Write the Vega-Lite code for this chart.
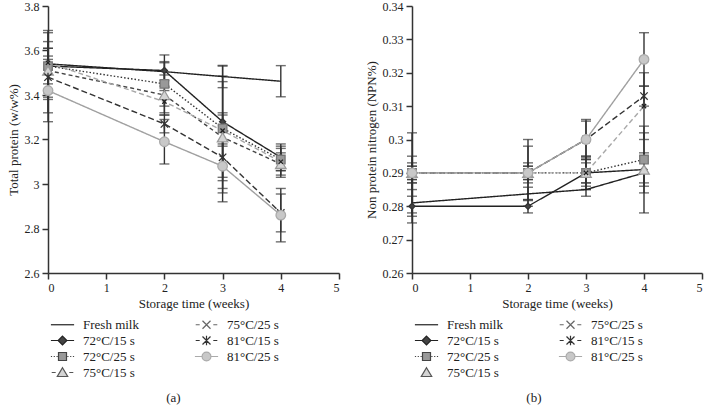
{
  "$schema": "https://vega.github.io/schema/vega-lite/v6.json",
  "padding": {"left": 7, "top": 0, "right": 1, "bottom": 0},
  "spacing": 25,
  "datasets": {
    "protein": [
      {"series": "Fresh milk", "week": 0, "value": 3.54, "sd": 0.15},
      {"series": "Fresh milk", "week": 2, "value": 3.505, "sd": 0.04},
      {"series": "Fresh milk", "week": 3, "value": 3.483, "sd": 0.05},
      {"series": "Fresh milk", "week": 4, "value": 3.462, "sd": 0.07},
      {"series": "72°C/15 s", "week": 0, "value": 3.53, "sd": 0.15},
      {"series": "72°C/15 s", "week": 2, "value": 3.51, "sd": 0.07},
      {"series": "72°C/15 s", "week": 3, "value": 3.28, "sd": 0.25},
      {"series": "72°C/15 s", "week": 4, "value": 3.12, "sd": 0.06},
      {"series": "72°C/25 s", "week": 0, "value": 3.53, "sd": 0.08},
      {"series": "72°C/25 s", "week": 2, "value": 3.45, "sd": 0.1},
      {"series": "72°C/25 s", "week": 3, "value": 3.25, "sd": 0.235},
      {"series": "72°C/25 s", "week": 4, "value": 3.11, "sd": 0.05},
      {"series": "75°C/15 s", "week": 0, "value": 3.51, "sd": 0.1},
      {"series": "75°C/15 s", "week": 2, "value": 3.4, "sd": 0.09},
      {"series": "75°C/15 s", "week": 3, "value": 3.21, "sd": 0.25},
      {"series": "75°C/15 s", "week": 4, "value": 3.09, "sd": 0.05},
      {"series": "75°C/25 s", "week": 0, "value": 3.545, "sd": 0.03},
      {"series": "75°C/25 s", "week": 2, "value": 3.37, "sd": 0.05},
      {"series": "75°C/25 s", "week": 3, "value": 3.24, "sd": 0.07},
      {"series": "75°C/25 s", "week": 4, "value": 3.1, "sd": 0.07},
      {"series": "81°C/15 s", "week": 0, "value": 3.48, "sd": 0.16},
      {"series": "81°C/15 s", "week": 2, "value": 3.27, "sd": 0.04},
      {"series": "81°C/15 s", "week": 3, "value": 3.12, "sd": 0.2},
      {"series": "81°C/15 s", "week": 4, "value": 2.87, "sd": 0.085},
      {"series": "81°C/25 s", "week": 0, "value": 3.42, "sd": 0.14},
      {"series": "81°C/25 s", "week": 2, "value": 3.19, "sd": 0.1},
      {"series": "81°C/25 s", "week": 3, "value": 3.08, "sd": 0.1},
      {"series": "81°C/25 s", "week": 4, "value": 2.86, "sd": 0.12}
    ],
    "npn": [
      {"series": "Fresh milk", "week": 0, "value": 0.281, "sd": 0.006},
      {"series": "Fresh milk", "week": 2, "value": 0.2837, "sd": 0.002},
      {"series": "Fresh milk", "week": 3, "value": 0.285, "sd": 0.002},
      {"series": "Fresh milk", "week": 4, "value": 0.29, "sd": 0.012},
      {"series": "72°C/15 s", "week": 0, "value": 0.28, "sd": 0.003},
      {"series": "72°C/15 s", "week": 2, "value": 0.28, "sd": 0.002},
      {"series": "72°C/15 s", "week": 3, "value": 0.29, "sd": 0.005},
      {"series": "72°C/15 s", "week": 4, "value": 0.291, "sd": 0.005},
      {"series": "72°C/25 s", "week": 0, "value": 0.29, "sd": 0.003},
      {"series": "72°C/25 s", "week": 2, "value": 0.29, "sd": 0.002},
      {"series": "72°C/25 s", "week": 3, "value": 0.29, "sd": 0.004},
      {"series": "72°C/25 s", "week": 4, "value": 0.294, "sd": 0.01},
      {"series": "75°C/15 s", "week": 0, "value": 0.29, "sd": 0.002},
      {"series": "75°C/15 s", "week": 2, "value": 0.29, "sd": 0.002},
      {"series": "75°C/15 s", "week": 3, "value": 0.29, "sd": 0.003},
      {"series": "75°C/15 s", "week": 4, "value": 0.291, "sd": 0.004},
      {"series": "75°C/25 s", "week": 0, "value": 0.29, "sd": 0.002},
      {"series": "75°C/25 s", "week": 2, "value": 0.29, "sd": 0.008},
      {"series": "75°C/25 s", "week": 3, "value": 0.29, "sd": 0.005},
      {"series": "75°C/25 s", "week": 4, "value": 0.31, "sd": 0.01},
      {"series": "81°C/15 s", "week": 0, "value": 0.29, "sd": 0.005},
      {"series": "81°C/15 s", "week": 2, "value": 0.29, "sd": 0.01},
      {"series": "81°C/15 s", "week": 3, "value": 0.3, "sd": 0.0055},
      {"series": "81°C/15 s", "week": 4, "value": 0.313, "sd": 0.003},
      {"series": "81°C/25 s", "week": 0, "value": 0.29, "sd": 0.012},
      {"series": "81°C/25 s", "week": 2, "value": 0.29, "sd": 0.003},
      {"series": "81°C/25 s", "week": 3, "value": 0.3, "sd": 0.006},
      {"series": "81°C/25 s", "week": 4, "value": 0.324, "sd": 0.008}
    ]
  },
  "hconcat": [
    {
      "width": 291,
      "height": 267,
      "data": {"name": "protein"},
      "title": {"text": "(a)", "orient": "bottom", "offset": 12, "frame": "bounds"},
      "encoding": {
        "x": {"field": "week", "type": "quantitative", "scale": {"domain": [0, 5], "nice": false}, "axis": {"values": [0, 1, 2, 3, 4, 5], "title": "Storage time (weeks)"}},
        "y": {"field": "value", "type": "quantitative", "scale": {"domain": [2.6, 3.8], "nice": false, "zero": false}, "axis": {"values": [2.6, 2.8, 3, 3.2, 3.4, 3.6, 3.8], "format": "~g", "title": "Total protein (w/w%)"}}
      },
      "layer": [
        {
          "mark": {"type": "errorbar", "ticks": true, "size": 10, "thickness": 1.4, "color": "#333"},
          "encoding": {"yError": {"field": "sd"}}
        },
        {
          "mark": {"type": "line", "strokeWidth": 1.4},
          "encoding": {
            "stroke": {"field": "series", "type": "nominal", "legend": null, "scale": {"domain": ["Fresh milk", "75°C/25 s", "72°C/15 s", "81°C/15 s", "72°C/25 s", "81°C/25 s", "75°C/15 s"], "range": ["#222", "#a8a8a8", "#222", "#333", "#333", "#a0a0a0", "#444"]}},
            "strokeDash": {"field": "series", "type": "nominal", "legend": null, "scale": {"domain": ["Fresh milk", "75°C/25 s", "72°C/15 s", "81°C/15 s", "72°C/25 s", "81°C/25 s", "75°C/15 s"], "range": [[1, 0], [5, 3], [1, 0], [6, 3], [1.5, 2], [1, 0], [4, 3]]}}
          }
        },
        {
          "transform": [{"filter": "datum.series !== 'Fresh milk'"}],
          "mark": {"type": "point", "opacity": 1, "strokeWidth": 1.3},
          "encoding": {
            "shape": {"field": "series", "type": "nominal", "legend": null, "scale": {"domain": ["Fresh milk", "75°C/25 s", "72°C/15 s", "81°C/15 s", "72°C/25 s", "81°C/25 s", "75°C/15 s"], "range": ["circle", "M-1,-1L1,1M-1,1L1,-1", "diamond", "M-1,-1L1,1M-1,1L1,-1M0,-1.2L0,1.2", "square", "circle", "triangle-up"]}},
            "fill": {"field": "series", "type": "nominal", "legend": null, "scale": {"domain": ["Fresh milk", "75°C/25 s", "72°C/15 s", "81°C/15 s", "72°C/25 s", "81°C/25 s", "75°C/15 s"], "range": ["transparent", "transparent", "#444", "transparent", "#999", "#c8c8c8", "#d4d4d4"]}},
            "stroke": {"field": "series", "type": "nominal", "legend": null, "scale": {"domain": ["Fresh milk", "75°C/25 s", "72°C/15 s", "81°C/15 s", "72°C/25 s", "81°C/25 s", "75°C/15 s"], "range": ["#222", "#222", "#333", "#333", "#777", "#aaa", "#999"]}},
            "size": {"field": "series", "type": "nominal", "legend": null, "scale": {"domain": ["Fresh milk", "75°C/25 s", "72°C/15 s", "81°C/15 s", "72°C/25 s", "81°C/25 s", "75°C/15 s"], "range": [0, 110, 80, 110, 100, 130, 170]}}
          }
        },
        {
          "mark": {"type": "point", "opacity": 0, "filled": true},
          "encoding": {
            "shape": {"field": "series", "type": "nominal", "legend": {"title": null}, "scale": {"domain": ["Fresh milk", "75°C/25 s", "72°C/15 s", "81°C/15 s", "72°C/25 s", "81°C/25 s", "75°C/15 s"], "range": [
              "M-2.9,0H2.9",
              "M-2.7,0H-1.7M1.7,0H2.7M-1,-1L1,1M-1,1L1,-1",
              "M-2.9,0H-1.1M1.1,0H2.9M0,-1.1L1.1,0L0,1.1L-1.1,0Z",
              "M-2.7,0H-1.7M1.7,0H2.7M-1,-1L1,1M-1,1L1,-1M0,-1.2V1.2",
              "M-2.9,0H-2.6M-2.2,0H-1.9M-1.5,0H-1.2M1.2,0H1.5M1.9,0H2.2M2.6,0H2.9M-1,-1H1V1H-1Z",
              "M-2.9,0H-1.1M1.1,0H2.9M1.1,0A1.1,1.1,0,1,1,-1.1,0A1.1,1.1,0,1,1,1.1,0Z",
              "M-2.7,0H-1.7M1.7,0H2.7M0,-1.2L1.3,1H-1.3Z"
            ]}},
            "color": {"field": "series", "type": "nominal", "legend": {"title": null}, "scale": {"domain": ["Fresh milk", "75°C/25 s", "72°C/15 s", "81°C/15 s", "72°C/25 s", "81°C/25 s", "75°C/15 s"], "range": ["transparent", "transparent", "#444", "transparent", "#999", "#c8c8c8", "#d4d4d4"]}},
            "stroke": {"field": "series", "type": "nominal", "legend": {"title": null}, "scale": {"domain": ["Fresh milk", "75°C/25 s", "72°C/15 s", "81°C/15 s", "72°C/25 s", "81°C/25 s", "75°C/15 s"], "range": ["#222", "#666", "#222", "#333", "#444", "#aaa", "#555"]}}
          }
        }
      ],
      "resolve": {"scale": {"shape": "independent", "fill": "independent", "color": "independent", "stroke": "independent", "strokeDash": "independent", "size": "independent"}}
    },
    {
      "width": 290,
      "height": 267,
      "data": {"name": "npn"},
      "title": {"text": "(b)", "orient": "bottom", "offset": 12, "frame": "bounds"},
      "encoding": {
        "x": {"field": "week", "type": "quantitative", "scale": {"domain": [0, 5], "nice": false}, "axis": {"values": [0, 1, 2, 3, 4, 5], "title": "Storage time (weeks)"}},
        "y": {"field": "value", "type": "quantitative", "scale": {"domain": [0.26, 0.34], "nice": false, "zero": false}, "axis": {"values": [0.26, 0.27, 0.28, 0.29, 0.3, 0.31, 0.32, 0.33, 0.34], "format": ".2~f", "title": "Non protein nitrogen (NPN%)"}}
      },
      "layer": [
        {
          "mark": {"type": "errorbar", "ticks": true, "size": 10, "thickness": 1.4, "color": "#333"},
          "encoding": {"yError": {"field": "sd"}}
        },
        {
          "transform": [{"filter": "datum.series !== '75°C/15 s'"}],
          "mark": {"type": "line", "strokeWidth": 1.4},
          "encoding": {
            "stroke": {"field": "series", "type": "nominal", "legend": null, "scale": {"domain": ["Fresh milk", "75°C/25 s", "72°C/15 s", "81°C/15 s", "72°C/25 s", "81°C/25 s", "75°C/15 s"], "range": ["#222", "#a8a8a8", "#222", "#333", "#333", "#a0a0a0", "#444"]}},
            "strokeDash": {"field": "series", "type": "nominal", "legend": null, "scale": {"domain": ["Fresh milk", "75°C/25 s", "72°C/15 s", "81°C/15 s", "72°C/25 s", "81°C/25 s", "75°C/15 s"], "range": [[1, 0], [5, 3], [1, 0], [6, 3], [1.5, 2], [1, 0], [4, 3]]}}
          }
        },
        {
          "transform": [{"filter": "datum.series !== 'Fresh milk'"}],
          "mark": {"type": "point", "opacity": 1, "strokeWidth": 1.3},
          "encoding": {
            "shape": {"field": "series", "type": "nominal", "legend": null, "scale": {"domain": ["Fresh milk", "75°C/25 s", "72°C/15 s", "81°C/15 s", "72°C/25 s", "81°C/25 s", "75°C/15 s"], "range": ["circle", "M-1,-1L1,1M-1,1L1,-1", "diamond", "M-1,-1L1,1M-1,1L1,-1M0,-1.2L0,1.2", "square", "circle", "triangle-up"]}},
            "fill": {"field": "series", "type": "nominal", "legend": null, "scale": {"domain": ["Fresh milk", "75°C/25 s", "72°C/15 s", "81°C/15 s", "72°C/25 s", "81°C/25 s", "75°C/15 s"], "range": ["transparent", "transparent", "#444", "transparent", "#999", "#c8c8c8", "#d4d4d4"]}},
            "stroke": {"field": "series", "type": "nominal", "legend": null, "scale": {"domain": ["Fresh milk", "75°C/25 s", "72°C/15 s", "81°C/15 s", "72°C/25 s", "81°C/25 s", "75°C/15 s"], "range": ["#222", "#222", "#333", "#333", "#777", "#aaa", "#999"]}},
            "size": {"field": "series", "type": "nominal", "legend": null, "scale": {"domain": ["Fresh milk", "75°C/25 s", "72°C/15 s", "81°C/15 s", "72°C/25 s", "81°C/25 s", "75°C/15 s"], "range": [0, 110, 80, 110, 100, 130, 170]}}
          }
        },
        {
          "mark": {"type": "point", "opacity": 0, "filled": true},
          "encoding": {
            "shape": {"field": "series", "type": "nominal", "legend": {"title": null}, "scale": {"domain": ["Fresh milk", "75°C/25 s", "72°C/15 s", "81°C/15 s", "72°C/25 s", "81°C/25 s", "75°C/15 s"], "range": [
              "M-2.9,0H2.9",
              "M-2.7,0H-1.7M1.7,0H2.7M-1,-1L1,1M-1,1L1,-1",
              "M-2.9,0H-1.1M1.1,0H2.9M0,-1.1L1.1,0L0,1.1L-1.1,0Z",
              "M-2.7,0H-1.7M1.7,0H2.7M-1,-1L1,1M-1,1L1,-1M0,-1.2V1.2",
              "M-2.9,0H-2.6M-2.2,0H-1.9M-1.5,0H-1.2M1.2,0H1.5M1.9,0H2.2M2.6,0H2.9M-1,-1H1V1H-1Z",
              "M-2.9,0H-1.1M1.1,0H2.9M1.1,0A1.1,1.1,0,1,1,-1.1,0A1.1,1.1,0,1,1,1.1,0Z",
              "M0,-1.2L1.3,1H-1.3Z"
            ]}},
            "color": {"field": "series", "type": "nominal", "legend": {"title": null}, "scale": {"domain": ["Fresh milk", "75°C/25 s", "72°C/15 s", "81°C/15 s", "72°C/25 s", "81°C/25 s", "75°C/15 s"], "range": ["transparent", "transparent", "#444", "transparent", "#999", "#c8c8c8", "#d4d4d4"]}},
            "stroke": {"field": "series", "type": "nominal", "legend": {"title": null}, "scale": {"domain": ["Fresh milk", "75°C/25 s", "72°C/15 s", "81°C/15 s", "72°C/25 s", "81°C/25 s", "75°C/15 s"], "range": ["#222", "#666", "#222", "#333", "#444", "#aaa", "#555"]}}
          }
        }
      ],
      "resolve": {"scale": {"shape": "independent", "fill": "independent", "color": "independent", "stroke": "independent", "strokeDash": "independent", "size": "independent"}}
    }
  ],
  "resolve": {"scale": {"shape": "independent", "fill": "independent", "color": "independent", "stroke": "independent", "strokeDash": "independent", "size": "independent"}},
  "config": {
    "font": "Liberation Serif",
    "view": {"stroke": null},
    "axis": {"grid": false, "domainColor": "#333", "tickColor": "#333", "domainWidth": 1.5, "tickWidth": 1.5, "tickSize": 6, "labelFont": "Liberation Serif", "titleFont": "Liberation Serif", "labelFontSize": 12, "titleFontSize": 13, "titleFontWeight": "normal", "labelColor": "#222", "titleColor": "#222", "labelPadding": 3},
    "legend": {"orient": "bottom", "columns": 2, "labelFont": "Liberation Serif", "labelFontSize": 13, "labelColor": "#222", "symbolSize": 64, "symbolStrokeWidth": 1.2, "symbolOpacity": 1, "columnPadding": 53, "rowPadding": 1, "offset": 8, "symbolOffset": 8, "labelOffset": 14},
    "title": {"font": "Liberation Serif", "fontSize": 13, "fontWeight": "normal", "color": "#222"}
  }
}
